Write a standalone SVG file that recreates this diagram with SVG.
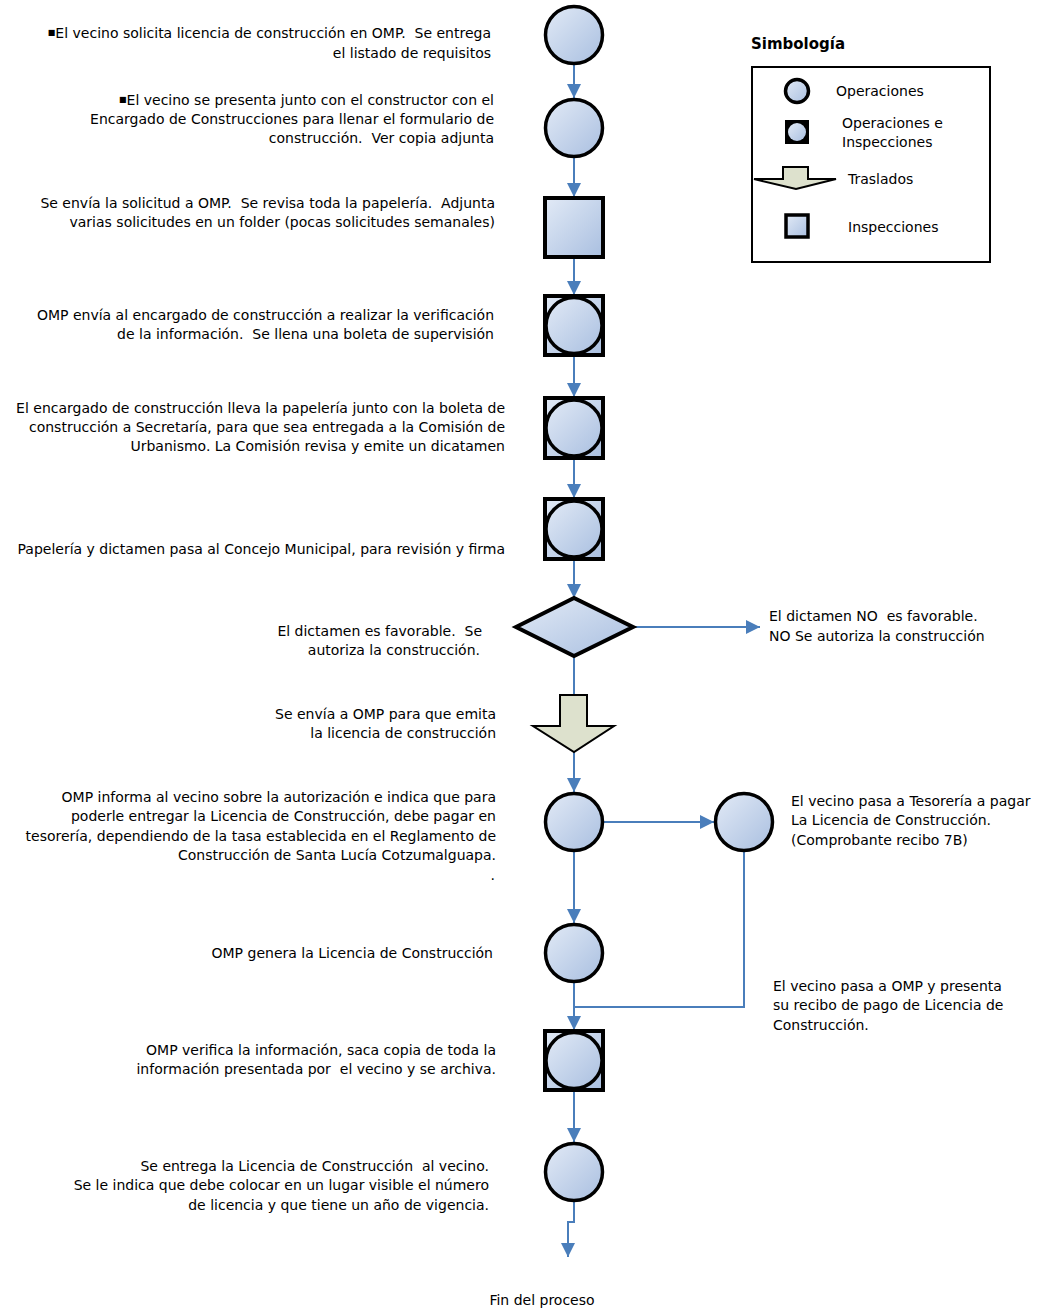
<svg xmlns="http://www.w3.org/2000/svg" width="1045" height="1308" viewBox="0 0 1045 1308">
  <defs>
    <linearGradient id="nodeFill" x1="0" y1="0" x2="1" y2="1">
      <stop offset="0" stop-color="#e2eaf6"/>
      <stop offset="1" stop-color="#a9bfe0"/>
    </linearGradient>
    <marker id="arrow" viewBox="0 0 10 10" refX="10" refY="5" markerWidth="7" markerHeight="7" orient="auto" markerUnits="strokeWidth">
      <path d="M0,0 L10,5 L0,10 z" fill="#4a7ebb"/>
    </marker>
    <style>
      .op { fill: url(#nodeFill); stroke: #000; stroke-width: 3.5; }
      .box { fill: url(#nodeFill); stroke: #000; stroke-width: 4; }
      .move { fill: #dde1cd; stroke: #000; stroke-width: 2; }
      .conn { fill: none; stroke: #4a7ebb; stroke-width: 2; }
      .arr { marker-end: url(#arrow); }
      text { font-family: "DejaVu Sans", "Noto Sans", sans-serif; font-size: 14px; fill: #000; white-space: pre; }
      .r { text-anchor: end; }
      .title { font-weight: bold; font-size: 15px; }
      .bullet { font-size: 8px; baseline-shift: 3px; }
    </style>
  </defs>

  <!-- connectors -->
  <g id="connectors">
    <path class="conn arr" d="M574,65 V98"/>
    <path class="conn arr" d="M574,158 V197"/>
    <path class="conn arr" d="M574,258 V295"/>
    <path class="conn arr" d="M574,356 V397"/>
    <path class="conn arr" d="M574,459 V498"/>
    <path class="conn arr" d="M574,560 V598"/>
    <path class="conn" d="M574,656 V695"/>
    <path class="conn arr" d="M633,627 H760"/>
    <path class="conn arr" d="M574,752 V792"/>
    <path class="conn arr" d="M604,822 H714"/>
    <path class="conn arr" d="M574,852 V923"/>
    <path class="conn" d="M744,852 V1007 H574"/>
    <path class="conn arr" d="M574,983 V1030"/>
    <path class="conn arr" d="M574,1091 V1142"/>
    <path class="conn arr" d="M574,1202 V1222 H568 V1257"/>
  </g>

  <!-- process nodes -->
  <g id="n1"><circle class="op" cx="574" cy="35" r="28.5"/></g>
  <g id="n2"><circle class="op" cx="574" cy="128" r="28.5"/></g>
  <g id="n3"><rect class="box" x="545" y="198" width="58" height="59"/></g>
  <g id="n4"><rect class="box" x="545" y="296" width="58" height="59"/><circle class="op" cx="574" cy="325.5" r="28"/></g>
  <g id="n5"><rect class="box" x="545" y="398" width="58" height="60"/><circle class="op" cx="574" cy="428" r="28"/></g>
  <g id="n6"><rect class="box" x="545" y="499" width="58" height="60"/><circle class="op" cx="574" cy="529" r="28"/></g>
  <g id="n7"><polygon class="box" points="516,627 574,598 633,627 574,656"/></g>
  <g id="n8"><polygon class="move" points="560,695 587,695 587,726 614,726 574,752 533,726 560,726"/></g>
  <g id="n9"><circle class="op" cx="574" cy="822" r="28.5"/></g>
  <g id="n10"><circle class="op" cx="744" cy="822" r="28.5"/></g>
  <g id="n11"><circle class="op" cx="574" cy="953" r="28.5"/></g>
  <g id="n12"><rect class="box" x="545" y="1031" width="58" height="59"/><circle class="op" cx="574" cy="1060.5" r="28"/></g>
  <g id="n13"><circle class="op" cx="574" cy="1172" r="28.5"/></g>

  <!-- step descriptions -->
  <g id="labels">
    <text class="r" x="491" y="38"><tspan class="bullet">■</tspan>El vecino solicita licencia de construcción en OMP.  Se entrega</text>
    <text class="r" x="491" y="58">el listado de requisitos</text>

    <text class="r" x="494" y="105"><tspan class="bullet">■</tspan>El vecino se presenta junto con el constructor con el</text>
    <text class="r" x="494" y="124">Encargado de Construcciones para llenar el formulario de</text>
    <text class="r" x="494" y="143">construcción.  Ver copia adjunta</text>

    <text class="r" x="495" y="208">Se envía la solicitud a OMP.  Se revisa toda la papelería.  Adjunta</text>
    <text class="r" x="495" y="227">varias solicitudes en un folder (pocas solicitudes semanales)</text>

    <text class="r" x="494" y="320">OMP envía al encargado de construcción a realizar la verificación</text>
    <text class="r" x="494" y="339">de la información.  Se llena una boleta de supervisión</text>

    <text class="r" x="505" y="413">El encargado de construcción lleva la papelería junto con la boleta de</text>
    <text class="r" x="505" y="432">construcción a Secretaría, para que sea entregada a la Comisión de</text>
    <text class="r" x="505" y="451">Urbanismo. La Comisión revisa y emite un dicatamen</text>

    <text class="r" x="505" y="554">Papelería y dictamen pasa al Concejo Municipal, para revisión y firma</text>

    <text class="r" x="482" y="636">El dictamen es favorable.  Se</text>
    <text class="r" x="480" y="655">autoriza la construcción.</text>

    <text x="769" y="621">El dictamen NO  es favorable.</text>
    <text x="769" y="641">NO Se autoriza la construcción</text>

    <text class="r" x="496" y="719">Se envía a OMP para que emita</text>
    <text class="r" x="496" y="738">la licencia de construcción</text>

    <text class="r" x="496" y="802">OMP informa al vecino sobre la autorización e indica que para</text>
    <text class="r" x="496" y="821">poderle entregar la Licencia de Construcción, debe pagar en</text>
    <text class="r" x="496" y="841">tesorería, dependiendo de la tasa establecida en el Reglamento de</text>
    <text class="r" x="496" y="860">Construcción de Santa Lucía Cotzumalguapa.</text>
    <text class="r" x="495" y="880">.</text>

    <text x="791" y="806">El vecino pasa a Tesorería a pagar</text>
    <text x="791" y="825">La Licencia de Construcción.</text>
    <text x="791" y="845">(Comprobante recibo 7B)</text>

    <text class="r" x="493" y="958">OMP genera la Licencia de Construcción</text>

    <text x="773" y="991">El vecino pasa a OMP y presenta</text>
    <text x="773" y="1010">su recibo de pago de Licencia de</text>
    <text x="773" y="1030">Construcción.</text>

    <text class="r" x="496" y="1055">OMP verifica la información, saca copia de toda la</text>
    <text class="r" x="496" y="1074">información presentada por  el vecino y se archiva.</text>

    <text class="r" x="489" y="1171">Se entrega la Licencia de Construcción  al vecino.</text>
    <text class="r" x="489" y="1190">Se le indica que debe colocar en un lugar visible el número</text>
    <text class="r" x="489" y="1210">de licencia y que tiene un año de vigencia.</text>

    <text x="542" y="1305" text-anchor="middle">Fin del proceso</text>
  </g>

  <!-- legend -->
  <g id="legend">
    <text class="title" x="751" y="49">Simbología</text>
    <rect x="752" y="67" width="238" height="195" fill="#fff" stroke="#000" stroke-width="2"/>
    <circle cx="797" cy="91" r="11.5" fill="url(#nodeFill)" stroke="#000" stroke-width="3.5"/>
    <text x="836" y="96">Operaciones</text>
    <rect x="785" y="120" width="24" height="24" fill="#000"/>
    <circle cx="797" cy="132" r="9" fill="url(#nodeFill)"/>
    <text x="842" y="128">Operaciones e</text>
    <text x="842" y="147">Inspecciones</text>
    <polygon class="move" points="783,167 808,167 808,179 836,179 796,189 754,179 783,179"/>
    <text x="848" y="184">Traslados</text>
    <rect x="786" y="215" width="22" height="22" fill="url(#nodeFill)" stroke="#000" stroke-width="3.5"/>
    <text x="848" y="232">Inspecciones</text>
  </g>
</svg>
